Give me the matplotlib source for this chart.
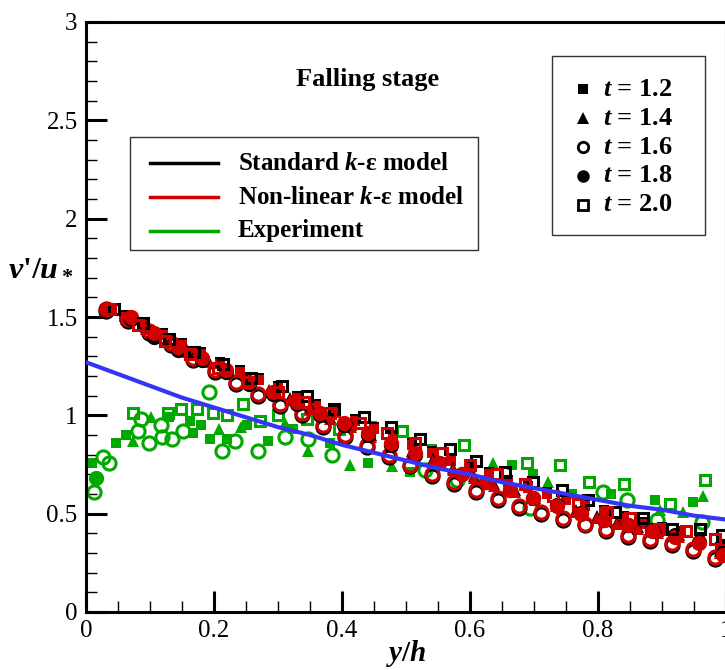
import matplotlib
matplotlib.use('Agg')
import matplotlib.pyplot as plt
from matplotlib.ticker import MultipleLocator, FuncFormatter
from matplotlib.patches import Rectangle

plt.rcParams['font.family'] = 'Liberation Serif'
plt.rcParams['mathtext.fontset'] = 'custom'
plt.rcParams['mathtext.rm'] = 'Liberation Serif:bold'
plt.rcParams['mathtext.it'] = 'Liberation Serif:italic:bold'
plt.rcParams['mathtext.bf'] = 'Liberation Serif:bold'

# ---- data ----
times = ['1.2', '1.4', '1.6', '1.8', '2.0']

# t = 1.2
x12 = [0.030, 0.060, 0.090, 0.120, 0.150, 0.180, 0.210, 0.240, 0.270, 0.300, 0.330,
       0.360, 0.390, 0.420, 0.450, 0.480, 0.510, 0.540, 0.570, 0.600, 0.630, 0.660,
       0.690, 0.720, 0.750, 0.780, 0.810, 0.840, 0.870, 0.900, 0.930, 0.960, 0.990]
std12 = [1.54, 1.51, 1.47, 1.42, 1.37, 1.32, 1.27, 1.23, 1.19, 1.15, 1.10,
         1.06, 1.02, 0.98, 0.94, 0.90, 0.86, 0.82, 0.78, 0.74, 0.71, 0.67,
         0.64, 0.61, 0.58, 0.55, 0.52, 0.49, 0.46, 0.43, 0.41, 0.38, 0.33]
nl12 = [1.53, 1.50, 1.46, 1.41, 1.36, 1.31, 1.26, 1.22, 1.18, 1.14, 1.09,
        1.05, 1.01, 0.97, 0.93, 0.89, 0.85, 0.81, 0.77, 0.73, 0.70, 0.66,
        0.63, 0.60, 0.57, 0.54, 0.51, 0.48, 0.45, 0.42, 0.40, 0.37, 0.32]

# t = 1.4
x14 = [0.030, 0.062, 0.094, 0.126, 0.158, 0.190, 0.222, 0.254, 0.286, 0.318, 0.350,
       0.382, 0.414, 0.446, 0.478, 0.510, 0.542, 0.574, 0.606, 0.638, 0.670, 0.702,
       0.734, 0.766, 0.798, 0.830, 0.862, 0.894, 0.926, 0.958, 0.990]
std14 = [1.54, 1.50, 1.45, 1.39, 1.33, 1.28, 1.23, 1.18, 1.13, 1.09, 1.04,
         0.99, 0.95, 0.90, 0.86, 0.82, 0.78, 0.73, 0.69, 0.65, 0.62, 0.58,
         0.55, 0.52, 0.49, 0.46, 0.43, 0.41, 0.39, 0.36, 0.31]
nl14 = [1.53, 1.49, 1.44, 1.38, 1.32, 1.27, 1.22, 1.17, 1.12, 1.08, 1.03,
        0.98, 0.94, 0.89, 0.85, 0.81, 0.77, 0.72, 0.68, 0.64, 0.61, 0.57,
        0.54, 0.51, 0.48, 0.45, 0.42, 0.40, 0.38, 0.35, 0.30]

# t = 1.6
x16 = [0.031, 0.065, 0.099, 0.133, 0.167, 0.201, 0.235, 0.269, 0.303, 0.337,
       0.371, 0.405, 0.439, 0.473, 0.507, 0.541, 0.575, 0.609, 0.643, 0.677,
       0.711, 0.745, 0.779, 0.813, 0.847, 0.881, 0.915, 0.949, 0.983]
std16 = [1.53, 1.48, 1.42, 1.36, 1.28, 1.22, 1.16, 1.10, 1.05, 1.00,
         0.94, 0.89, 0.84, 0.79, 0.74, 0.69, 0.65, 0.61, 0.57, 0.53,
         0.50, 0.47, 0.44, 0.41, 0.38, 0.36, 0.34, 0.31, 0.27]
nl16 = [1.54, 1.49, 1.43, 1.37, 1.29, 1.23, 1.17, 1.11, 1.06, 1.01,
        0.95, 0.90, 0.85, 0.80, 0.75, 0.70, 0.66, 0.62, 0.58, 0.54,
        0.51, 0.48, 0.45, 0.42, 0.39, 0.37, 0.35, 0.32, 0.28]

# t = 1.8
x18 = [0.033, 0.070, 0.107, 0.144, 0.181, 0.218, 0.255, 0.292, 0.329, 0.366,
       0.403, 0.440, 0.477, 0.514, 0.551, 0.588, 0.625, 0.662, 0.699, 0.736,
       0.773, 0.810, 0.847, 0.884, 0.921, 0.958, 0.995]
std18 = [1.54, 1.49, 1.40, 1.33, 1.28, 1.22, 1.16, 1.11, 1.06, 1.00,
         0.95, 0.90, 0.85, 0.80, 0.76, 0.70, 0.66, 0.62, 0.58, 0.545,
         0.505, 0.47, 0.44, 0.415, 0.39, 0.355, 0.30]
nl18 = [1.54, 1.50, 1.42, 1.35, 1.29, 1.23, 1.17, 1.12, 1.07, 1.01,
        0.96, 0.91, 0.86, 0.81, 0.76, 0.70, 0.66, 0.62, 0.58, 0.54,
        0.50, 0.47, 0.44, 0.41, 0.38, 0.35, 0.29]

# t = 2.0
x20_std = [0.044, 0.089, 0.130, 0.169, 0.214, 0.258, 0.307, 0.346, 0.388, 0.435, 0.477,
           0.522, 0.568, 0.610, 0.655, 0.699, 0.743, 0.785, 0.827, 0.871, 0.915, 0.959, 0.993]
std20 = [1.54, 1.47, 1.39, 1.32, 1.26, 1.19, 1.15, 1.10, 1.03, 0.99, 0.94,
         0.88, 0.83, 0.77, 0.71, 0.66, 0.62, 0.57, 0.51, 0.48, 0.42, 0.42, 0.39]
x20_nl = [0.038, 0.082, 0.123, 0.162, 0.207, 0.252, 0.300, 0.340, 0.381, 0.428, 0.471,
          0.514, 0.556, 0.600, 0.642, 0.686, 0.730, 0.769, 0.814, 0.850, 0.895, 0.938, 0.983]
nl20 = [1.54, 1.46, 1.38, 1.31, 1.24, 1.17, 1.12, 1.07, 1.01, 0.96, 0.91,
        0.86, 0.81, 0.75, 0.70, 0.65, 0.59, 0.55, 0.51, 0.48, 0.42, 0.41, 0.37]

# experiment
exp12_x = [0.010, 0.047, 0.063, 0.129, 0.163, 0.167, 0.180, 0.193, 0.221, 0.251, 0.285,
           0.324, 0.381, 0.441, 0.506, 0.540, 0.665, 0.699, 0.759, 0.821, 0.889, 0.949]
exp12_y = [0.76, 0.86, 0.90, 0.99, 0.97, 0.91, 0.95, 0.88, 0.88, 0.95, 0.87,
           0.93, 0.86, 0.76, 0.71, 0.83, 0.75, 0.70, 0.60, 0.60, 0.57, 0.56]
exp14_x = [0.073, 0.102, 0.208, 0.242, 0.311, 0.347, 0.413, 0.478, 0.636, 0.722, 0.897, 0.933, 0.964]
exp14_y = [0.87, 0.99, 0.93, 0.94, 0.96, 0.82, 0.75, 0.74, 0.76, 0.66, 0.52, 0.51, 0.59]
exp16_x = [0.013, 0.026, 0.036, 0.082, 0.086, 0.099, 0.117, 0.119, 0.135, 0.151, 0.192,
           0.213, 0.233, 0.269, 0.311, 0.347, 0.384, 0.530, 0.580, 0.694, 0.808, 0.845, 0.892, 0.962]
exp16_y = [0.61, 0.79, 0.76, 0.92, 0.98, 0.86, 0.95, 0.89, 0.88, 0.92, 1.12,
           0.82, 0.87, 0.82, 0.89, 0.88, 0.80, 0.72, 0.67, 0.53, 0.61, 0.57, 0.47, 0.46]
exp18_x = [0.016]
exp18_y = [0.68]
exp20_x = [0.073, 0.128, 0.148, 0.174, 0.198, 0.221, 0.245, 0.272, 0.300, 0.345, 0.396,
           0.444, 0.493, 0.590, 0.689, 0.740, 0.786, 0.840, 0.912, 0.967]
exp20_y = [1.01, 1.01, 1.03, 1.03, 1.01, 1.00, 1.06, 0.97, 1.00, 0.98, 0.93,
           0.94, 0.92, 0.85, 0.76, 0.75, 0.66, 0.65, 0.55, 0.67]

# empirical curve (blue)
curve_x = [0.00, 0.05, 0.10, 0.15, 0.20, 0.25, 0.30, 0.35, 0.40, 0.45, 0.50,
           0.55, 0.60, 0.65, 0.70, 0.75, 0.80, 0.85, 0.90, 0.95, 1.00]
curve_y = [1.27, 1.21, 1.15, 1.09, 1.04, 0.99, 0.94, 0.90, 0.85, 0.81, 0.77,
           0.73, 0.70, 0.66, 0.63, 0.60, 0.57, 0.54, 0.52, 0.49, 0.47]

BLACK = '#000000'
RED = '#d00000'
GREEN = '#00a800'
BLUE = '#3535f5'

# marker style for each time
sty = {
    '1.2': dict(marker='s', ms=7.5, filled=True),
    '1.4': dict(marker='^', ms=8.5, filled=True),
    '1.6': dict(marker='o', ms=9.5, filled=False),
    '1.8': dict(marker='o', ms=11, filled=True),
    '2.0': dict(marker='s', ms=7.5, filled=False),
}


def pts(ax, x, y, t, color, z=3):
    s = sty[t]
    if s['filled']:
        ax.plot(x, y, ls='none', marker=s['marker'], ms=s['ms'], mfc=color,
                mec=color, mew=0, zorder=z)
    else:
        ax.plot(x, y, ls='none', marker=s['marker'], ms=s['ms'], mfc='none',
                mec=color, mew=2.2, zorder=z)


fig = plt.figure(figsize=(7.25, 6.7), dpi=100)
ax = fig.add_axes([86 / 725, 58 / 670, 640 / 725, 590 / 670])

# experiment
pts(ax, exp12_x, exp12_y, '1.2', GREEN, 2)
pts(ax, exp14_x, exp14_y, '1.4', GREEN, 2)
pts(ax, exp16_x, exp16_y, '1.6', GREEN, 2)
pts(ax, exp18_x, exp18_y, '1.8', GREEN, 2)
pts(ax, exp20_x, exp20_y, '2.0', GREEN, 2)

# models
models = [
    ('1.2', x12, std12, x12, nl12),
    ('1.4', x14, std14, x14, nl14),
    ('1.6', x16, std16, x16, nl16),
    ('1.8', x18, std18, x18, nl18),
    ('2.0', x20_std, std20, x20_nl, nl20),
]
for t, xs, ys, xn, yn in models:
    pts(ax, xs, ys, t, BLACK, 3)
    pts(ax, xn, yn, t, RED, 3)

ax.plot(curve_x, curve_y, color=BLUE, lw=3, zorder=5)

ax.set_xlim(0, 1)
ax.set_ylim(0, 3)
ax.xaxis.set_major_locator(MultipleLocator(0.2))
ax.xaxis.set_minor_locator(MultipleLocator(0.05))
ax.yaxis.set_major_locator(MultipleLocator(0.5))
ax.yaxis.set_minor_locator(MultipleLocator(0.1))
fmt = FuncFormatter(lambda v, p: '%g' % round(v, 2))
ax.xaxis.set_major_formatter(fmt)
ax.yaxis.set_major_formatter(fmt)
ax.tick_params(which='major', direction='in', length=15, width=2.2, labelsize=18, pad=6)
ax.tick_params(which='minor', direction='in', length=8, width=1.0)
ax.tick_params(top=False, right=False, which='both')
for sp in ax.spines.values():
    sp.set_linewidth(2.2)

ax.set_xlabel("$y/h$", fontsize=21, labelpad=-3)
ax.set_ylabel("$v$'/$u_*$", fontsize=23, rotation=0, fontweight='bold')
ax.yaxis.set_label_coords(-0.07, 0.56)

ax.text(0.44, 0.902, 'Falling stage', transform=ax.transAxes, ha='center', va='center',
        fontsize=19, fontweight='bold')

# legend for the models
ax.add_patch(Rectangle((0.069, 0.614), 0.5435, 0.191, transform=ax.transAxes,
                       fill=True, fc='white', ec='#333333', lw=1.0, zorder=6))
leg1 = [('Standard $k$-ε model', BLACK, 0.761),
        ('Non-linear $k$-ε model', RED, 0.703),
        ('Experiment', GREEN, 0.646)]
for lab, c, yy in leg1:
    ax.plot([0.100, 0.206], [yy, yy], color=c, lw=2.5, transform=ax.transAxes, zorder=7)
    ax.text(0.2375, yy, lab, transform=ax.transAxes, va='center', ha='left',
            fontsize=18, fontweight='bold', zorder=7)

# legend for the times
ax.add_patch(Rectangle((0.728, 0.639), 0.239, 0.303, transform=ax.transAxes,
                       fill=True, fc='white', ec='#333333', lw=1.0, zorder=6))
leg2_y = [0.886, 0.837, 0.788, 0.739, 0.690]
leg2_ms = {'1.2': 6.5, '1.4': 8.5, '1.6': 7.5, '1.8': 9, '2.0': 6.5}
for t, yy in zip(times, leg2_y):
    s = sty[t]
    if s['filled']:
        ax.plot([0.777], [yy], marker=s['marker'], ms=leg2_ms[t], mfc=BLACK, mec=BLACK,
                mew=0, ls='none', transform=ax.transAxes, zorder=7)
    else:
        ax.plot([0.777], [yy], marker=s['marker'], ms=leg2_ms[t], mfc='none', mec=BLACK,
                mew=2.0, ls='none', transform=ax.transAxes, zorder=7)
    ax.text(0.808, yy, '$t$ = ' + t, transform=ax.transAxes, va='center', ha='left',
            fontsize=19, fontweight='bold', zorder=7)

fig.savefig('out.png', dpi=100)
